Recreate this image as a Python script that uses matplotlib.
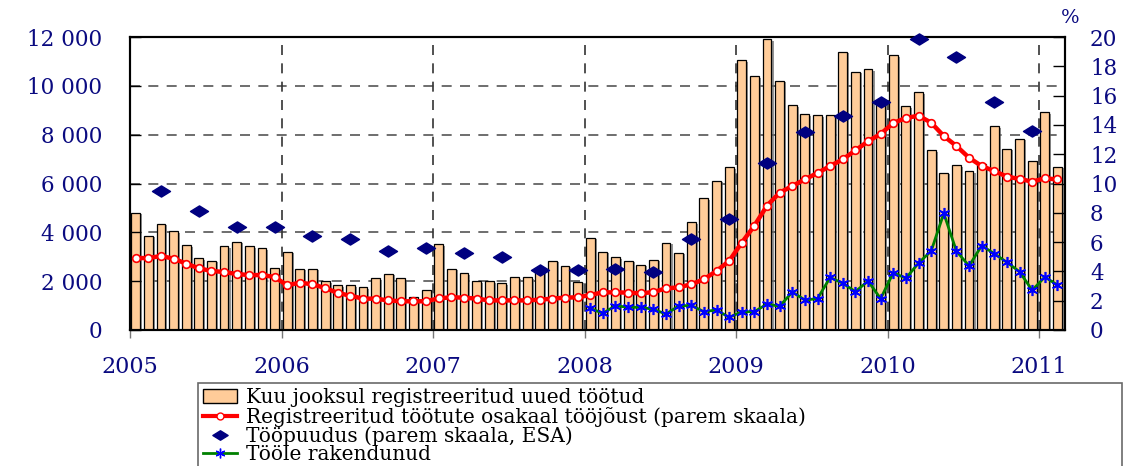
import numpy as np
import matplotlib
matplotlib.use("Agg")
import matplotlib.pyplot as plt
from matplotlib.path import Path
from matplotlib.lines import Line2D
from matplotlib.patches import Patch
from matplotlib import patheffects

plt.rcParams['font.family'] = ['DejaVu Serif']

# monthly data, Jan 2005 .. Feb 2011
new_unemployed = [
    4800, 3850, 4350, 4040, 3470, 2940, 2830, 3430, 3600, 3430, 3340, 2530,
    3190, 2500, 2500, 1990, 1830, 1830, 1750, 2120, 2310, 2120, 1340, 1620,
    3510, 2500, 2320, 1990, 1990, 1910, 2160, 2160, 2390, 2830, 2620, 1970,
    3780, 3190, 2980, 2830, 2660, 2870, 3560, 3150, 4410, 5390, 6100, 6660,
    11040, 10390, 11900, 10210, 9200, 8830, 8790, 8790, 11400, 10580, 10670, 9350,
    11250, 9160, 9730, 7360, 6440, 6740, 6500, 6780, 8340, 7410, 7820, 6910,
    8910, 6680,
]
reg_share = [
    4.91, 4.91, 5.05, 4.87, 4.53, 4.21, 4.03, 3.96, 3.82, 3.75, 3.75, 3.62,
    3.05, 3.23, 3.12, 2.87, 2.53, 2.34, 2.14, 2.14, 2.02, 1.96, 1.96, 1.96,
    2.16, 2.23, 2.21, 2.14, 2.02, 2.02, 2.02, 2.02, 2.07, 2.14, 2.21, 2.23,
    2.39, 2.57, 2.57, 2.55, 2.50, 2.59, 2.84, 2.91, 3.12, 3.46, 4.03, 4.71,
    5.96, 7.12, 8.49, 9.37, 9.83, 10.28, 10.72, 11.19, 11.65, 12.26, 12.88, 13.38,
    14.13, 14.47, 14.63, 14.15, 13.24, 12.56, 11.76, 11.19, 10.85, 10.47, 10.31, 10.13,
    10.35, 10.28,
]
# quarterly ESA unemployment (Mar 2005 .. Dec 2010)
esa_rate = [
    9.51, 8.10, 7.01, 7.01,
    6.44, 6.19, 5.42, 5.60,
    5.28, 5.01, 4.10, 4.10,
    4.16, 3.98, 6.19, 7.60,
    11.40, 13.52, 14.61, 15.54,
    19.84, 18.61, 15.54, 13.61,
]
# employed (from Jan 2008)
employed = [
    1.48, 1.14, 1.66, 1.55, 1.55, 1.41, 1.09, 1.64, 1.68, 1.25, 1.37, 0.86,
    1.25, 1.25, 1.77, 1.62, 2.59, 2.05, 2.14, 3.59, 3.19, 2.62, 3.34, 2.14,
    3.91, 3.53, 4.57, 5.39, 7.96, 5.39, 4.37, 5.76, 5.21, 4.62, 3.98, 2.71,
    3.62, 3.07,
]
years = [2005, 2006, 2007, 2008, 2009, 2010, 2011]
left_ticks = [0, 2000, 4000, 6000, 8000, 10000, 12000]
right_ticks = [0, 2, 4, 6, 8, 10, 12, 14, 16, 18, 20]

labels = [
    "Kuu jooksul registreeritud uued töötud",
    "Registreeritud töötute osakaal tööjõust (parem skaala)",
    "Tööpuudus (parem skaala, ESA)",
    "Tööle rakendunud",
]

navy = '#0a0a80'
peach = '#FFCC99'

months = np.arange(len(new_unemployed)) + 0.45
esa_x = np.arange(2, 2 + 3 * len(esa_rate), 3) + 0.45
emp_x = np.arange(36, 36 + len(employed)) + 0.45

# flat diamond marker
diamond = Path([(-1, 0), (0, 0.62), (1, 0), (0, -0.62), (-1, 0)],
               [Path.MOVETO, Path.LINETO, Path.LINETO, Path.LINETO, Path.CLOSEPOLY])
asterisk = (6, 2, 0)

fig = plt.figure(figsize=(11.26, 4.66), dpi=100)
ax = fig.add_axes([130 / 1126, 1 - 330 / 466, 935 / 1126, 293 / 466])

# dashed grid behind bars
for v in left_ticks[1:-1]:
    ax.axhline(v, color='#555555', lw=1.2, ls=(0, (6, 5)), zorder=0.5)
for i in range(1, len(years)):
    ax.axvline(12 * i, color='#333333', lw=1.2, ls=(0, (6, 5)), zorder=0.5)

shadow = [patheffects.SimplePatchShadow(offset=(1.5, -1), shadow_rgbFace='#666666', alpha=0.7),
          patheffects.Normal()]
ax.bar(months, new_unemployed, width=0.7, color=peach, edgecolor='black',
       linewidth=0.9, path_effects=shadow, zorder=1)

ax.set_xlim(0, 74.05)
ax.set_ylim(0, 12000)
ax.set_yticks(left_ticks)
ax.set_yticklabels([f"{v:,}".replace(',', ' ') for v in left_ticks])
ax.set_xticks([12 * i for i in range(len(years))])
ax.set_xticklabels([str(y) for y in years])
ax.tick_params(axis='y', direction='in', length=8, width=1, color='black',
               labelcolor=navy, labelsize=15.5, pad=20)
ax.tick_params(axis='x', direction='out', length=6, width=1, color='#777777',
               labelcolor=navy, labelsize=16, pad=13)

ax2 = ax.twinx()
ax2.set_ylim(0, 20)
ax2.set_yticks(right_ticks)
ax2.tick_params(axis='y', direction='in', length=9, width=1, color='black',
                labelcolor=navy, labelsize=15.5, pad=18)

ax2.plot(months, reg_share, color='red', lw=3.2, marker='o', ms=5.5,
         mfc='white', mec='red', mew=1.2, zorder=3)
ax2.plot(emp_x, employed, color='#008000', lw=2, marker=asterisk, ms=8,
         mec='blue', mfc='blue', mew=1.2, zorder=3)
ax2.plot(esa_x, esa_rate, ls='none', marker=diamond, ms=13, color='#000080',
         zorder=4, clip_on=False)

for a in (ax, ax2):
    for s in a.spines.values():
        s.set_linewidth(1.5)
        s.set_color('black')

fig.text(1070 / 1126, 1 - 18 / 466, '%', color=navy, fontsize=14,
         ha='center', va='center')

handles = [
    Patch(facecolor=peach, edgecolor='black', linewidth=1),
    Line2D([], [], color='red', lw=3, marker='o', ms=5, mfc='white', mec='red'),
    Line2D([], [], ls='none', marker=diamond, ms=11, color='#000080'),
    Line2D([], [], color='#008000', lw=2, marker=asterisk, ms=7, mec='blue', mfc='blue'),
]
leg = fig.legend(handles, labels, loc='upper left',
                 bbox_to_anchor=(198 / 1126, 0, 924 / 1126, 1 - 383 / 466),
                 mode='expand', fontsize=14.5, frameon=True, fancybox=False,
                 borderaxespad=0, borderpad=0.25, labelspacing=-0.02,
                 handlelength=1.7, handletextpad=0.45)
leg.get_frame().set_edgecolor('#444444')
leg.get_frame().set_linewidth(1.2)

fig.savefig('out.png', dpi=100)
